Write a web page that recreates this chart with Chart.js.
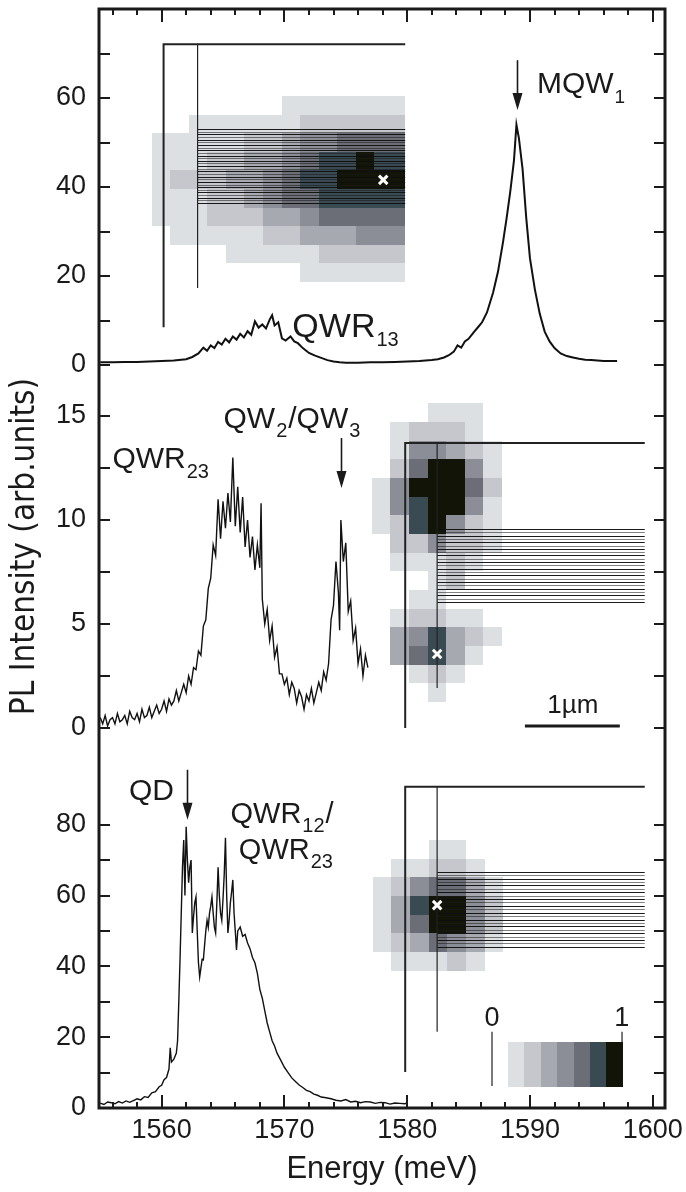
<!DOCTYPE html>
<html><head><meta charset="utf-8">
<script src="https://cdn.jsdelivr.net/npm/chart.js@4.4.1/dist/chart.umd.min.js"></script>
<style>html,body{margin:0;padding:0;background:#fff}canvas{display:block}</style>
</head><body>
<canvas id="c" width="686" height="1192"></canvas>
<script>
// ---------------- data ----------------
const X_LABELS = [1560, 1570, 1580, 1590, 1600];
const Y_TOP_LABELS = [0, 20, 40, 60];
const Y_MID_LABELS = [0, 5, 10, 15];
const Y_BOT_LABELS = [0, 20, 40, 60, 80];

// top panel spectrum (MQW1, QWR13)
const topE = [1555.0,1556.0,1557.0,1558.0,1559.0,1560.0,1561.0,1562.0,1562.5,1563.0,1563.4,1563.7,1564.0,1564.3,1564.6,1564.9,1565.2,1565.5,1565.8,1566.1,1566.4,1566.7,1567.0,1567.3,1567.6,1567.9,1568.2,1568.5,1568.8,1569.0,1569.2,1569.5,1569.8,1570.1,1570.5,1570.8,1571.1,1571.5,1572.0,1572.5,1573.0,1573.5,1574.0,1574.5,1575.0,1576.0,1577.0,1578.0,1579.0,1580.0,1581.0,1582.0,1582.5,1583.0,1583.4,1583.8,1584.1,1584.4,1584.7,1585.0,1585.4,1585.8,1586.1,1586.5,1587.0,1587.4,1587.8,1588.1,1588.4,1588.7,1588.9,1589.1,1589.4,1589.7,1590.0,1590.4,1590.8,1591.2,1591.6,1592.0,1592.5,1593.0,1593.5,1594.0,1594.5,1595.0,1595.5,1596.0,1596.5,1597.1];
const topI = [0.6,0.6,0.7,0.7,0.8,0.9,1.0,1.3,1.8,2.6,3.9,3.2,4.4,3.8,5.2,4.6,5.9,5.1,6.4,5.7,7.0,6.2,7.6,6.8,9.8,8.4,9.1,8.2,10.2,11.2,8.9,9.6,6.0,5.5,6.4,5.3,4.9,3.8,2.7,2.1,1.6,1.1,0.8,0.6,0.5,0.5,0.6,0.6,0.7,0.8,0.9,1.1,1.3,1.7,2.2,3.0,4.4,3.9,5.3,5.9,7.3,8.6,9.6,11.8,16.3,21.0,27.5,33.0,39.0,46.0,54.0,51.0,44.0,33.0,24.0,17.0,11.5,7.5,5.3,3.8,2.6,2.0,1.7,1.4,1.2,1.1,1.0,0.9,0.9,0.9];

// middle panel spectrum (QWR23, QW2/QW3)
const midE = [1555.0,1555.2,1555.4,1555.6,1555.8,1556.0,1556.2,1556.4,1556.6,1556.8,1557.0,1557.2,1557.4,1557.6,1557.8,1558.0,1558.2,1558.4,1558.6,1558.8,1559.0,1559.2,1559.4,1559.6,1559.8,1560.0,1560.2,1560.4,1560.6,1560.8,1561.0,1561.2,1561.4,1561.6,1561.8,1562.0,1562.2,1562.4,1562.6,1562.8,1563.0,1563.2,1563.4,1563.6,1563.8,1564.0,1564.2,1564.4,1564.6,1564.8,1565.0,1565.2,1565.4,1565.6,1565.8,1566.0,1566.2,1566.4,1566.6,1566.8,1567.0,1567.2,1567.4,1567.6,1567.8,1568.0,1568.1,1568.2,1568.4,1568.6,1568.8,1569.0,1569.2,1569.4,1569.6,1569.8,1570.0,1570.2,1570.4,1570.6,1570.8,1571.0,1571.2,1571.4,1571.6,1571.8,1572.0,1572.2,1572.4,1572.6,1572.8,1573.0,1573.2,1573.4,1573.6,1573.8,1574.0,1574.2,1574.4,1574.5,1574.6,1574.8,1575.0,1575.2,1575.4,1575.6,1575.8,1576.0,1576.2,1576.4,1576.6,1576.8];
const midI = [0.5,0.2,0.6,0.1,0.4,0.5,0.2,0.7,0.3,0.4,0.6,0.2,0.8,0.5,0.4,0.7,0.3,0.9,0.5,0.6,1.0,0.5,0.8,1.1,0.7,0.9,1.3,0.8,1.4,1.1,1.3,1.8,1.3,1.7,2.1,1.7,2.5,2.1,2.9,2.8,3.7,3.5,4.9,5.2,6.7,7.2,8.8,8.3,11.0,9.1,10.9,9.6,11.3,9.9,13.0,9.7,11.6,9.4,11.1,8.7,10.0,8.2,9.2,7.6,8.8,7.7,10.8,6.2,5.0,5.7,4.2,4.9,3.4,3.9,2.6,2.6,2.1,2.4,1.6,2.2,1.9,1.2,1.8,1.5,0.9,1.6,1.3,1.9,1.2,1.7,2.2,1.8,2.7,2.3,3.1,5.2,5.9,8.0,6.5,4.7,10.0,8.0,8.9,5.6,6.1,4.2,4.8,3.1,3.8,2.5,3.5,2.9];

// bottom panel spectrum (QD, QWR12/QWR23)
const botE = [1555.0,1555.3,1555.6,1555.9,1556.2,1556.5,1556.8,1557.1,1557.4,1557.7,1558.0,1558.3,1558.6,1558.9,1559.2,1559.5,1559.8,1560.0,1560.2,1560.4,1560.6,1560.7,1560.8,1561.0,1561.2,1561.3,1561.4,1561.5,1561.6,1561.7,1561.8,1561.9,1562.0,1562.1,1562.2,1562.3,1562.4,1562.5,1562.6,1562.7,1562.8,1562.9,1563.0,1563.1,1563.2,1563.3,1563.4,1563.5,1563.6,1563.7,1563.8,1563.9,1564.0,1564.1,1564.2,1564.3,1564.4,1564.5,1564.6,1564.7,1564.8,1564.9,1565.0,1565.1,1565.2,1565.3,1565.4,1565.5,1565.6,1565.7,1565.8,1565.9,1566.0,1566.1,1566.2,1566.4,1566.6,1566.8,1567.0,1567.2,1567.4,1567.6,1567.8,1568.0,1568.2,1568.4,1568.6,1568.8,1569.0,1569.2,1569.4,1569.7,1570.0,1570.3,1570.6,1570.9,1571.2,1571.5,1571.8,1572.1,1572.4,1572.7,1573.0,1573.4,1573.8,1574.2,1574.6,1575.0,1575.4,1575.8,1576.2,1576.6,1577.0,1577.4,1577.8,1578.2,1578.6,1579.0,1579.4,1579.8,1580.0];
const botI = [1.4,1.0,1.7,1.5,1.2,1.8,1.4,2.0,1.6,2.1,2.6,2.3,3.2,3.0,4.3,4.6,6.0,6.4,8.0,8.6,11.0,17.0,13.0,13.8,15.5,19.0,30.0,42.0,55.0,68.0,75.7,60.0,79.4,70.0,63.6,68.0,70.0,49.4,54.0,58.0,59.6,50.0,41.0,37.0,39.5,42.0,41.8,46.0,50.0,53.0,51.0,55.0,57.0,59.6,55.0,51.0,49.4,58.0,68.0,60.0,55.0,53.0,59.0,66.0,76.3,60.0,49.4,53.0,58.0,61.0,64.4,55.0,50.0,44.6,50.0,51.1,48.5,49.0,46.6,45.0,42.5,41.0,38.0,33.5,31.0,27.5,24.0,21.5,19.0,17.5,15.5,13.5,11.5,10.0,8.5,7.5,6.5,5.8,5.0,4.6,3.9,3.6,3.1,2.9,2.6,2.2,2.0,2.4,1.7,1.9,1.5,1.8,1.7,1.3,1.6,1.5,1.1,1.4,1.3,1.2,1.4];

// PL maps: grey level 1..7 (0 = no signal), rows top to bottom
const mapTop = [
  [0,0,0,0,0,0,0,1,1,1,1,1,1,1],
  [0,0,1,1,1,1,1,1,2,2,2,2,2,2],
  [1,1,1,1,1,2,2,3,4,4,5,5,5,5],
  [1,1,1,2,2,3,3,4,5,6,6,7,6,6],
  [1,2,2,2,3,3,4,5,6,6,7,7,7,7],
  [1,1,1,2,2,3,4,5,5,6,6,6,6,6],
  [1,1,1,2,2,2,3,3,4,5,5,5,5,5],
  [0,1,1,1,1,1,2,2,3,3,3,4,4,4],
  [0,0,0,0,1,1,1,1,1,2,2,2,2,2],
  [0,0,0,0,0,0,0,0,1,1,1,1,1,1]
];
const mapMid = [
  [0,0,0,1,1,1,0],
  [0,1,2,2,2,1,0],
  [0,1,4,4,3,2,1],
  [0,2,5,7,7,4,1],
  [1,4,7,7,7,5,2],
  [1,4,6,7,7,4,1],
  [1,2,6,7,4,2,1],
  [0,2,2,4,2,2,1],
  [0,1,1,1,2,1,0],
  [0,0,0,1,2,0,0],
  [0,0,1,1,0,0,0],
  [0,1,2,2,1,1,0],
  [0,3,4,6,3,2,1],
  [0,3,5,6,3,1,0],
  [0,0,1,2,1,0,0],
  [0,0,0,1,0,0,0]
];
const mapBot = [
  [0,0,0,1,1,0,0],
  [0,1,1,2,2,1,0],
  [1,2,4,5,5,3,1],
  [1,3,6,7,7,4,2],
  [1,3,5,7,7,4,2],
  [1,2,3,5,4,3,1],
  [0,1,1,1,2,1,0]
];
const colorbarLevels = [1,2,3,4,5,6,7];

// ---------------- styling / placement ----------------
const GRAYS = ['#dde0e3','#c6c7cc','#a7a9b1','#8b8e97','#6b6e77','#3a4a52','#121408'];
const FONT = '"Liberation Sans", Arial, Helvetica, sans-serif';
const INK = '#1a1a1a';

const INSETS = [
  {axis:'yTop', map:mapTop, x0:1559.19, y0:60.45, dx:1.512, dy:4.18, xMax:1579.84,
   frame:{x:1560.16, lo:8.5, hi:72.1, xEnd:1579.84}, inner:{x:1562.93, lo:17.3},
   hatch:{x1:1562.93, x2:1579.84, lo:36.4, hi:53.0, n:29}},
  {axis:'yMid', map:mapMid, x0:1577.13, y0:15.61, dx:1.51, dy:0.897, xMax:1e9,
   frame:{x:1579.84, lo:0, hi:13.7, xEnd:1599.35}, inner:{x:1582.44, lo:1.92},
   hatch:{x1:1582.44, x2:1599.35, lo:6.06, hi:9.57, n:23}},
  {axis:'yBot', map:mapBot, x0:1577.18, y0:75.7, dx:1.52, dy:5.27, xMax:1e9,
   frame:{x:1579.84, lo:10.2, hi:90.7, xEnd:1599.35}, inner:{x:1582.44, lo:21.5},
   hatch:{x1:1582.44, x2:1599.35, lo:45.5, hi:66.7, n:23}}
];

const insetsPlugin = {
  id: 'insets',
  beforeDatasetsDraw(chart) {
    const ctx = chart.ctx, X = chart.scales.x;
    INSETS.forEach(ins => {
      const Y = chart.scales[ins.axis];
      ctx.save();
      ins.map.forEach((row, r) => row.forEach((v, c) => {
        if (!v) return;
        const e1 = ins.x0 + c * ins.dx;
        const e2 = Math.min(e1 + ins.dx, ins.xMax);
        const i1 = ins.y0 - r * ins.dy, i2 = i1 - ins.dy;
        const px1 = Math.round(X.getPixelForValue(e1)), px2 = Math.round(X.getPixelForValue(e2));
        const py1 = Math.round(Y.getPixelForValue(i1)), py2 = Math.round(Y.getPixelForValue(i2));
        ctx.fillStyle = GRAYS[v - 1];
        ctx.fillRect(px1, py1, px2 - px1, py2 - py1);
      }));
      const h = ins.hatch;
      const hx1 = X.getPixelForValue(h.x1), hx2 = X.getPixelForValue(h.x2);
      const hy1 = Y.getPixelForValue(h.hi), hy2 = Y.getPixelForValue(h.lo);
      ctx.lineWidth = 1;
      for (let k = 0; k < h.n; k++) {
        const y = Math.round(hy1 + (hy2 - hy1) * k / (h.n - 1)) + 0.5;
        ctx.strokeStyle = k % 2 ? 'rgba(25,25,25,0.55)' : 'rgba(15,15,15,0.95)';
        ctx.beginPath(); ctx.moveTo(hx1, y); ctx.lineTo(hx2, y); ctx.stroke();
      }
      const f = ins.frame;
      ctx.strokeStyle = '#222'; ctx.lineWidth = 2;
      ctx.beginPath();
      ctx.moveTo(X.getPixelForValue(f.x), Y.getPixelForValue(f.lo));
      ctx.lineTo(X.getPixelForValue(f.x), Y.getPixelForValue(f.hi));
      ctx.lineTo(X.getPixelForValue(f.xEnd), Y.getPixelForValue(f.hi));
      ctx.stroke();
      ctx.lineWidth = 1.2;
      ctx.beginPath();
      ctx.moveTo(X.getPixelForValue(ins.inner.x), Y.getPixelForValue(f.hi));
      ctx.lineTo(X.getPixelForValue(ins.inner.x), Y.getPixelForValue(ins.inner.lo));
      ctx.stroke();
      ctx.restore();
    });
    // colour bar (bottom panel)
    const Yb = chart.scales.yBot;
    ctx.save();
    const cb0 = 1588.21, cbW = 1.336, cbTop = 18.6, cbBot = 5.9;
    colorbarLevels.forEach((lv, k) => {
      const x1 = Math.round(X.getPixelForValue(cb0 + k * cbW)), x2 = Math.round(X.getPixelForValue(cb0 + (k + 1) * cbW));
      const y1 = Math.round(Yb.getPixelForValue(cbTop)), y2 = Math.round(Yb.getPixelForValue(cbBot));
      ctx.fillStyle = GRAYS[lv - 1]; ctx.fillRect(x1, y1, x2 - x1, y2 - y1);
    });
    ctx.strokeStyle = '#222'; ctx.lineWidth = 1.2;
    ctx.beginPath();
    ctx.moveTo(X.getPixelForValue(1586.91), Yb.getPixelForValue(21.5)); ctx.lineTo(X.getPixelForValue(1586.91), Yb.getPixelForValue(6.2));
    ctx.moveTo(X.getPixelForValue(1597.5), Yb.getPixelForValue(21.5)); ctx.lineTo(X.getPixelForValue(1597.5), Yb.getPixelForValue(18.6));
    ctx.stroke();
    ctx.restore();
  }
};

function subText(ctx, parts, x, y, big, small, drop) {
  let cx = x;
  parts.forEach(p => {
    ctx.font = (p.sub ? small : big) + 'px ' + FONT;
    ctx.fillText(p.t, cx, p.sub ? y + drop : y);
    cx += ctx.measureText(p.t).width + 1;
  });
}

const ANNOTS = [
  {axis:'yTop', e:1590.57, v:61.1, size:30, sub:19, drop:10, parts:[{t:'MQW'},{t:'1',sub:true}]},
  {axis:'yTop', e:1570.65, v:6.3, size:34, sub:20, drop:9, parts:[{t:'QWR'},{t:'13',sub:true}]},
  {axis:'yMid', e:1555.99, v:12.5, size:30, sub:20, drop:10, parts:[{t:'QWR'},{t:'23',sub:true}]},
  {axis:'yMid', e:1565.04, v:14.42, size:30, sub:20, drop:9, parts:[{t:'QW'},{t:'2',sub:true},{t:'/QW'},{t:'3',sub:true}]},
  {axis:'yBot', e:1557.34, v:87.0, size:30, sub:20, drop:9, parts:[{t:'QD'}]},
  {axis:'yBot', e:1565.61, v:80.5, size:29, sub:20, drop:9, parts:[{t:'QWR'},{t:'12',sub:true},{t:'/'}]},
  {axis:'yBot', e:1566.29, v:70.3, size:29, sub:20, drop:9, parts:[{t:'QWR'},{t:'23',sub:true}]}
];
const ARROWS = [
  {axis:'yTop', e:1588.94, from:68.5, to:57.3},
  {axis:'yMid', e:1574.63, from:13.94, to:11.54},
  {axis:'yBot', e:1562.03, from:95.5, to:81.4}
];

const textPlugin = {
  id: 'texts',
  afterDatasetsDraw(chart) {
    const ctx = chart.ctx, X = chart.scales.x;
    ctx.save();
    ctx.fillStyle = INK; ctx.textBaseline = 'alphabetic'; ctx.textAlign = 'left';
    ANNOTS.forEach(a => {
      const Y = chart.scales[a.axis];
      subText(ctx, a.parts, X.getPixelForValue(a.e), Y.getPixelForValue(a.v), a.size, a.sub, a.drop);
    });
    ctx.strokeStyle = INK; ctx.lineWidth = 1.6;
    ARROWS.forEach(ar => {
      const Y = chart.scales[ar.axis];
      const x = Math.round(X.getPixelForValue(ar.e)) + 0.5;
      const y1 = Y.getPixelForValue(ar.from), y2 = Y.getPixelForValue(ar.to);
      ctx.beginPath(); ctx.moveTo(x, y1); ctx.lineTo(x, y2 - 14); ctx.stroke();
      ctx.beginPath(); ctx.moveTo(x - 5, y2 - 17); ctx.lineTo(x + 5, y2 - 17); ctx.lineTo(x, y2); ctx.closePath(); ctx.fill();
    });
    // scale bar
    const Ym = chart.scales.yMid;
    ctx.lineWidth = 3;
    ctx.beginPath();
    ctx.moveTo(X.getPixelForValue(1589.59), Ym.getPixelForValue(0.1));
    ctx.lineTo(X.getPixelForValue(1597.32), Ym.getPixelForValue(0.1));
    ctx.stroke();
    ctx.textAlign = 'center';
    ctx.font = '26px ' + FONT;
    ctx.fillText('1\u00b5m', X.getPixelForValue(1593.5), Ym.getPixelForValue(0.72));
    // colour bar labels
    const Yb = chart.scales.yBot;
    ctx.font = '27px ' + FONT;
    ctx.fillText('0', X.getPixelForValue(1586.91), Yb.getPixelForValue(23.2));
    ctx.fillText('1', X.getPixelForValue(1597.48), Yb.getPixelForValue(23.2));
    ctx.restore();
  }
};

const frameTicks = {
  id: 'frameTicks',
  afterDatasetsDraw(chart) {
    const {ctx, chartArea: a} = chart;
    const X = chart.scales.x;
    ctx.save();
    ctx.strokeStyle = INK; ctx.lineWidth = 2;
    const seg = (x1, y1, x2, y2) => { ctx.beginPath(); ctx.moveTo(x1, y1); ctx.lineTo(x2, y2); ctx.stroke(); };
    X.ticks.forEach(t => {
      const x = Math.round(X.getPixelForValue(t.value));
      const L = X_LABELS.includes(t.value) ? 13 : 6;
      seg(x, a.bottom, x, a.bottom - L);
      seg(x, a.top, x, a.top + L);
    });
    ['yTop', 'yMid', 'yBot'].forEach(id => {
      const Y = chart.scales[id];
      Y.ticks.forEach(t => {
        if (t.value >= Y.max) return;
        const y = Math.round(Y.getPixelForValue(t.value));
        seg(a.left, y, a.left + 11, y);
        seg(a.right, y, a.right - 11, y);
      });
    });
    ctx.lineWidth = 3;
    ctx.strokeRect(a.left, a.top, a.right - a.left, a.bottom - a.top);
    ctx.restore();
  }
};

const toXY = (E, I) => E.map((e, i) => ({x: e, y: I[i]}));
const lineDs = (E, I, axis, w) => ({type:'line', data: toXY(E, I), yAxisID: axis, borderColor: '#111', borderWidth: w, pointRadius: 0, tension: 0, fill: false});
const crossDs = (x, y, axis) => ({type:'scatter', data:[{x, y}], yAxisID: axis, pointStyle:'crossRot', pointRadius: 6, borderColor:'#fff', backgroundColor:'#fff', borderWidth: 3});

const yAxis = (labels, max, step, wt, extra) => Object.assign({
  type: 'linear', position: 'left', stack: 'panels', stackWeight: wt,
  min: 0, max: max,
  grid: {display: false, drawTicks: false}, border: {display: false},
  ticks: {stepSize: step, includeBounds: false, autoSkip: false, padding: 13, color: INK,
          font: {family: FONT, size: 27},
          callback: v => labels.includes(v) ? String(v) : ''},
  afterFit: s => { s.width = 99; s.paddingTop = 0; s.paddingBottom = 0; }
}, extra || {});

new Chart(document.getElementById('c'), {
  type: 'line',
  data: {
    datasets: [
      lineDs(topE, topI, 'yTop', 2),
      lineDs(midE, midI, 'yMid', 1.4),
      lineDs(botE, botI, 'yBot', 1.4),
      crossDs(1578.05, 41.6, 'yTop'),
      crossDs(1582.44, 3.56, 'yMid'),
      crossDs(1582.44, 57.3, 'yBot')
    ]
  },
  options: {
    responsive: false, animation: false,
    layout: {padding: {left: 0, right: 21, top: 9, bottom: 0}},
    plugins: {legend: {display: false}, tooltip: {enabled: false}},
    scales: {
      x: {
        type: 'linear', position: 'bottom', min: 1554.9, max: 1601,
        grid: {display: false, drawTicks: false}, border: {display: false},
        ticks: {stepSize: 2, includeBounds: false, autoSkip: false, maxRotation: 0, padding: 6, color: INK,
                font: {family: FONT, size: 27},
                callback: v => X_LABELS.includes(v) ? String(v) : ''},
        title: {display: true, text: 'Energy (meV)', color: INK, font: {family: FONT, size: 31}, padding: {top: 0, bottom: 4}},
        afterFit: s => { s.height = 84; s.paddingLeft = 0; s.paddingRight = 0; }
      },
      yTop: yAxis(Y_TOP_LABELS, 80, 10, 356, {weight: 3}),
      yMid: yAxis(Y_MID_LABELS, 17.45, 2.5, 363, {weight: 2,
        title: {display: true, text: 'PL Intensity (arb.units)', color: INK,
                font: {family: '"Liberation Sans Narrow", "DejaVu Sans Condensed", "Liberation Sans", sans-serif', size: 33},
                padding: {top: 6, bottom: 0}}}),
      yBot: yAxis(Y_BOT_LABELS, 107.3, 10, 380, {weight: 1,
        afterBuildTicks: s => { s.ticks = s.ticks.filter(t => t.value <= 80); }})
    }
  },
  plugins: [insetsPlugin, textPlugin, frameTicks]
});
</script>
</body></html>
